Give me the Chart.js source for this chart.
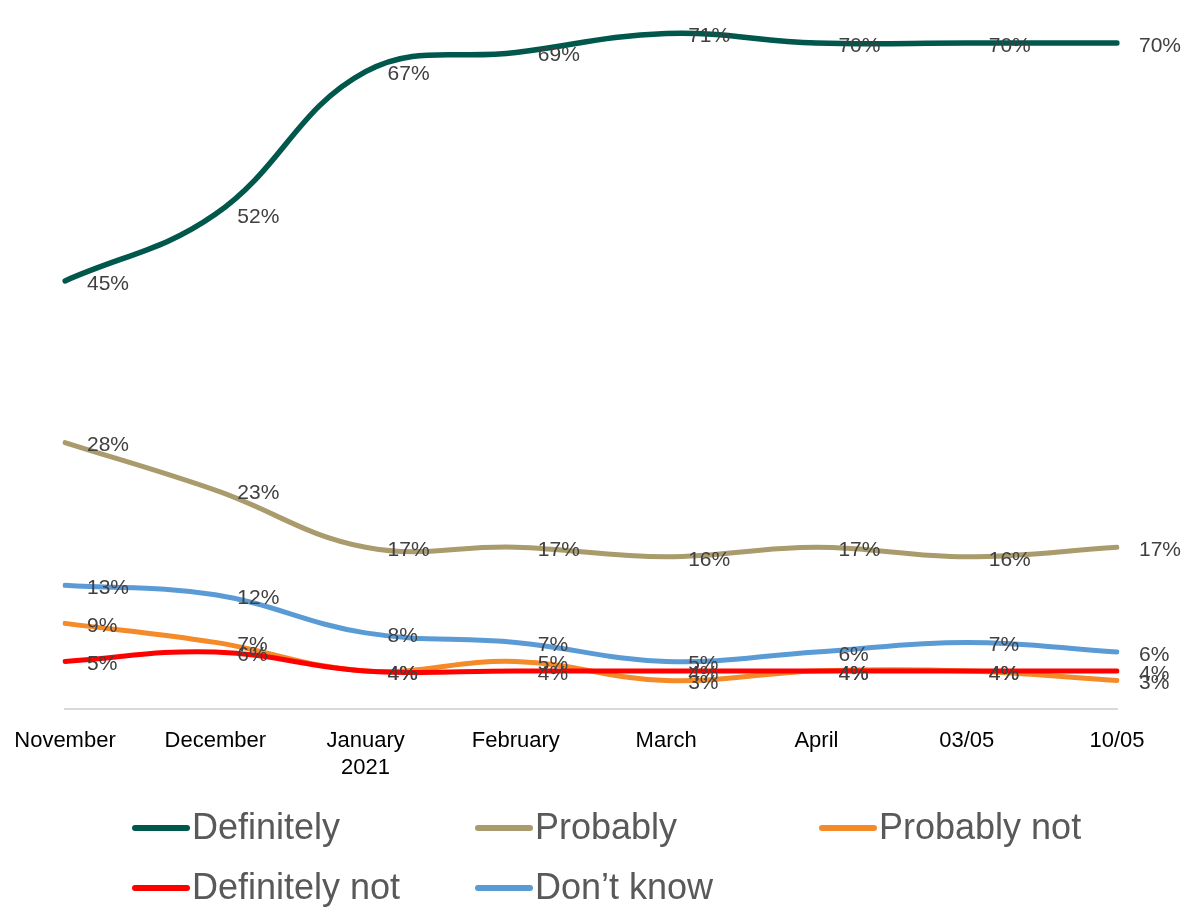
<!DOCTYPE html>
<html>
<head>
<meta charset="utf-8">
<script src="https://cdn.jsdelivr.net/npm/chart.js@4/dist/chart.umd.min.js"></script>
<style>
  html, body { margin: 0; padding: 0; background: #fff; }
  #wrap { width: 1191px; height: 908px; }
</style>
</head>
<body>
<div id="wrap"><canvas id="trustChart" width="1191" height="908"></canvas></div>
<script>
// survey waves
const months = ['November', 'December', ['January', '2021'], 'February', 'March', 'April', '03/05', '10/05'];

// share of respondents (%)
const definitely    = [45, 52, 67, 69, 71, 70, 70, 70];
const probably      = [28, 23, 17, 17, 16, 17, 16, 17];
const probablyNot   = [9, 7, 4, 5, 3, 4, 4, 3];
const definitelyNot = [5, 6, 4, 4, 4, 4, 4, 4];
const dontKnow      = [13, 12, 8, 7, 5, 6, 7, 6];

const seriesNames  = ['Definitely', 'Probably', 'Probably not', 'Definitely not', 'Don\u2019t know'];
const seriesColors = ['#00574b', '#a99b6b', '#f58a28', '#ff0000', '#5b9bd5'];
const seriesData   = [definitely, probably, probablyNot, definitelyNot, dontKnow];

// percentage labels to the right of each point
const pointLabels = {
    id: 'pointLabels',
    afterDatasetsDraw(chart) {
        const c = chart.ctx;
        c.save();
        c.font = '21px "Liberation Sans", Arial, sans-serif';
        c.fillStyle = '#404040';
        c.textAlign = 'left';
        c.textBaseline = 'middle';
        chart.data.datasets.forEach((ds, i) => {
            chart.getDatasetMeta(i).data.forEach((pt, j) => {
                c.fillText(Math.round(ds.data[j]) + '%', pt.x + 22, pt.y + 3);
            });
        });
        c.restore();
    }
};

// legend in two rows, three columns
const legendRows = {
    id: 'legendRows',
    afterDraw(chart) {
        const c = chart.ctx;
        const cols = [135, 478, 822];
        const rows = [828, 888];
        c.save();
        c.font = '36px "Liberation Sans", Arial, sans-serif';
        c.textBaseline = 'middle';
        c.textAlign = 'left';
        seriesNames.forEach((name, i) => {
            const x = cols[i % 3];
            const y = rows[Math.floor(i / 3)];
            c.strokeStyle = seriesColors[i];
            c.lineWidth = 6;
            c.lineCap = 'round';
            c.beginPath();
            c.moveTo(x, y);
            c.lineTo(x + 52, y);
            c.stroke();
            c.fillStyle = '#595959';
            c.fillText(name, x + 57, y + 1);
        });
        c.restore();
    }
};

const ctx = document.getElementById('trustChart').getContext('2d');
let trustChart = new Chart(ctx, {
    type: 'line',
    data: {
        labels: months,
        datasets: seriesData.map((d, i) => ({
            label: seriesNames[i],
            data: d,
            borderColor: seriesColors[i],
            backgroundColor: seriesColors[i],
            borderWidth: i === 0 ? 5.5 : 5,
            borderCapStyle: 'round',
            pointRadius: 0,
            tension: 0.4,
            fill: false,
            order: 5 - i // later series on top, like the original
        }))
    },
    options: {
        responsive: false,
        animation: false,
        events: [],
        layout: {
            padding: { left: 65, right: 74, top: 5, bottom: 108 }
        },
        plugins: {
            legend: { display: false },
            tooltip: { enabled: false }
        },
        scales: {
            x: {
                offset: false,
                grid: { display: false, drawTicks: false },
                border: { color: '#d9d9d9', width: 2 },
                ticks: {
                    color: '#000',
                    padding: 18,
                    maxRotation: 0,
                    autoSkip: false,
                    font: { family: '"Liberation Sans", Arial, sans-serif', size: 22, lineHeight: 1.25 }
                },
                afterFit(scale) {
                    // keep the layout padding as the only side margin
                    scale.paddingLeft = 0;
                    scale.paddingRight = 0;
                }
            },
            y: {
                display: false,
                min: 0,
                max: 74
            }
        }
    },
    plugins: [pointLabels, legendRows]
});
</script>
</body>
</html>
